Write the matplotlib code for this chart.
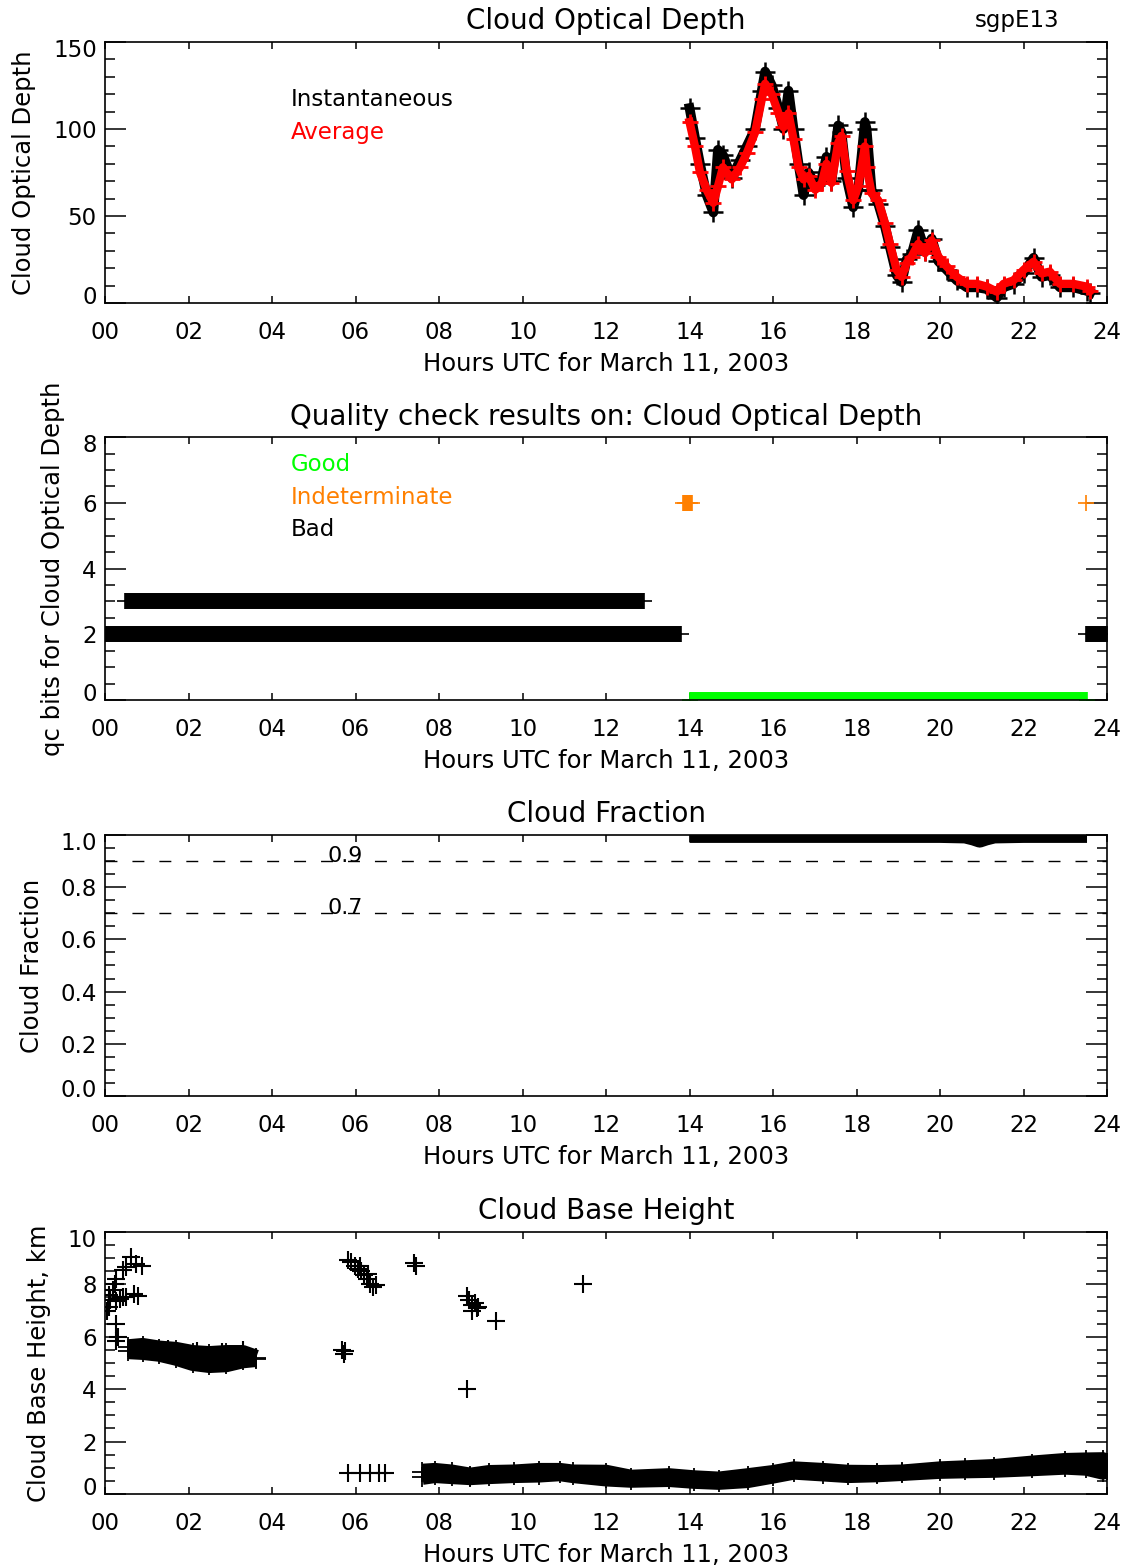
import matplotlib
matplotlib.use('Agg')
import matplotlib.pyplot as plt
from matplotlib.ticker import MultipleLocator
from matplotlib.transforms import offset_copy

# Cloud optical depth, March 11 2003 (hours UTC)
cod_hours = [14.0, 14.13, 14.25, 14.41, 14.57, 14.68, 14.80, 15.01, 15.21, 15.37,
             15.57, 15.73, 15.81, 15.97, 16.13, 16.25, 16.37, 16.49, 16.61, 16.73,
             16.85, 17.01, 17.17, 17.28, 17.40, 17.56, 17.64, 17.76, 17.92, 18.04,
             18.20, 18.24, 18.36, 18.52, 18.68, 18.80, 18.96, 19.08, 19.20, 19.32,
             19.48, 19.64, 19.80, 19.96, 20.16, 20.40, 20.64, 20.88, 21.12, 21.36,
             21.52, 21.76, 22.00, 22.24, 22.43, 22.63, 22.87, 23.19, 23.51, 23.60]
cod_avg = [104, 90, 75, 65, 57.5, 67, 78, 71, 78, 86,
           98, 117, 126, 120, 109, 101, 109, 94, 78, 71,
           73, 65, 69, 80, 69, 92, 96, 76, 59, 67,
           90, 78, 63, 59, 46, 34, 19, 15, 23, 26.6,
           34, 28.6, 36, 26.6, 21, 15, 11, 11, 9.4, 6.5,
           11, 13, 19, 23.7, 17, 18, 11, 11, 9.4, 7]
cod_inst = [112, 95, 80, 62, 52, 88, 85, 72, 82, 90,
            100, 122, 133, 125, 112, 100, 122, 100, 80, 62,
            75, 68, 72, 84, 70, 102, 98, 72, 55, 65,
            104, 100, 65, 57, 44, 32, 16, 12, 25, 28,
            42, 30, 37, 24, 19, 13, 9, 9, 8, 3,
            9, 11, 17, 26, 15, 16, 9, 9, 7, 6]

# QC bits
qc_bad_bit = [3, 2, 2]
qc_bad_start = [0.48, 0.0, 23.5]
qc_bad_end = [12.92, 13.8, 24.0]
qc_good_start = [14.02]
qc_good_end = [23.51]
qc_indet_hours = [13.85, 13.9, 13.95, 14.0, 14.05, 23.5]
qc_indet_bit = 6

# Cloud fraction
cf_hours = [14.0, 15.0, 16.0, 17.0, 18.0, 19.0, 20.0, 20.6, 20.8, 20.95, 21.1, 21.3, 22.0, 23.0, 23.52]
cf_values = [1.0, 1.0, 1.0, 1.0, 1.0, 1.0, 1.0, 0.998, 0.99, 0.982, 0.99, 0.998, 1.0, 1.0, 1.0]
cf_thresholds = [0.9, 0.7]

# Cloud base height: low layer envelope
cbh_low_hours = [7.6, 7.9, 8.3, 8.75, 9.2, 9.8, 10.4, 10.9, 11.2, 12.0, 12.6, 13.5, 14.1,
                 14.7, 15.4, 16.0, 16.5, 17.2, 17.8, 18.5, 19.1, 20.0, 20.6, 21.3, 22.2,
                 23.0, 23.5, 23.9, 24.0]
cbh_low_top = [0.85, 0.88, 0.82, 0.70, 0.80, 0.82, 0.88, 0.88, 0.82, 0.81, 0.62, 0.68, 0.60,
               0.55, 0.68, 0.80, 0.94, 0.88, 0.81, 0.80, 0.82, 0.94, 0.98, 1.03, 1.16,
               1.26, 1.28, 1.29, 1.20]
cbh_low_bottom = [0.65, 0.72, 0.68, 0.64, 0.68, 0.72, 0.74, 0.79, 0.72, 0.59, 0.54, 0.57, 0.50,
                  0.46, 0.53, 0.70, 0.85, 0.78, 0.72, 0.75, 0.80, 0.88, 0.90, 0.92, 0.98,
                  1.04, 1.00, 0.85, 0.90]

# Cloud base height: mid layer envelope (00-04 UTC)
cbh_mid_hours = [0.55, 0.9, 1.3, 1.7, 2.1, 2.5, 2.9, 3.3, 3.62]
cbh_mid_top = [5.6, 5.65, 5.55, 5.5, 5.38, 5.34, 5.38, 5.38, 5.2]
cbh_mid_bottom = [5.45, 5.42, 5.35, 5.2, 5.0, 4.92, 4.95, 5.1, 5.15]

# Cloud base height: scattered detections
cbh_hours = [0.05, 0.09, 0.09, 0.13, 0.18, 0.23, 0.27, 0.27, 0.35, 0.42, 0.42, 0.51, 0.51,
             0.61, 0.70, 0.75, 0.80, 0.89, 0.27, 0.27, 0.30,
             1.5, 2.2, 2.8, 3.3,
             5.68, 5.72, 5.75,
             5.82, 5.9, 5.98, 6.05, 6.1, 6.12, 6.2, 6.28, 6.3, 6.35, 6.42, 6.48,
             7.4, 7.45,
             8.68, 8.72, 8.78, 8.8, 8.85, 8.9, 8.94,
             9.37, 8.68, 11.45,
             5.82, 6.10, 6.34, 6.57, 6.71]
cbh_values = [7.0, 7.12, 7.6, 7.4, 7.8, 8.02, 8.21, 7.38, 7.45, 8.54, 7.5, 8.67, 7.5,
              9.05, 7.63, 8.79, 7.57, 8.7, 6.47, 5.83, 6.0,
              5.55, 5.45, 5.4, 5.5,
              5.5, 5.35, 5.45,
              8.92, 8.85, 8.7, 8.6, 8.7, 8.5, 8.35, 8.2, 8.4, 8.0, 7.9, 7.96,
              8.8, 8.7,
              7.55, 7.4, 7.2, 7.0, 7.3, 7.1, 7.12,
              6.6, 4.02, 8.02,
              0.8, 0.8, 0.8, 0.8, 0.8]

hour_ticks = list(range(0, 25, 2))
xlabel = 'Hours UTC for March 11, 2003'

plt.rcParams['font.family'] = 'DejaVu Sans'
plt.rcParams['axes.linewidth'] = 1.2

MS = 11.5   # '+' marker size, points


def style_axes(ax, ymin, ymax, major, minor):
    ax.set_xlim(0, 24)
    ax.set_ylim(ymin, ymax)
    ax.set_xticks(hour_ticks)
    ax.set_xticklabels([f'{h:02d}' for h in hour_ticks])
    ax.yaxis.set_major_locator(MultipleLocator(major))
    ax.yaxis.set_minor_locator(MultipleLocator(minor))
    ax.tick_params(axis='both', which='both', direction='in', top=True, right=True,
                   width=1.1, labelsize=16.5)
    ax.tick_params(axis='x', which='major', length=5, pad=13)
    ax.tick_params(axis='y', which='major', length=15, pad=6)
    ax.tick_params(axis='y', which='minor', length=7)
    ax.set_xlabel(xlabel, fontsize=17.5, labelpad=6)


def envelope(ax, hours, bottom, top):
    ax.fill_between(hours, bottom, top, color='black', lw=0)
    for edge in (top, bottom):
        ax.plot(hours, edge, color='black', lw=11.5, solid_capstyle='butt',
                marker='+', ms=MS + 3, mew=1.3)


fig = plt.figure(figsize=(11.27, 15.65), dpi=100)
left, width = 0.0932, 0.8891

# ---- Cloud optical depth
ax1 = fig.add_axes([left, 0.8064, width, 0.1668])
ax1.plot(cod_hours, cod_inst, color='black', lw=7, marker='+', ms=15, mew=1.8)
ax1.plot(cod_hours, cod_avg, color='red', lw=6, marker='+', ms=11, mew=2)
style_axes(ax1, 0, 150, 50, 10)
ax1.set_ylabel('Cloud Optical Depth', fontsize=17.5, labelpad=12)
ax1.set_title('Cloud Optical Depth', fontsize=20, pad=9)
ax1.text(0.185, 0.78, 'Instantaneous', transform=ax1.transAxes, fontsize=16.5,
         color='black', va='center')
ax1.text(0.185, 0.655, 'Average', transform=ax1.transAxes, fontsize=16.5,
         color='red', va='center')
fig.text(1017 / 1127, 1 - 20 / 1565, 'sgpE13', fontsize=16.5, ha='center', va='center')

# ---- QC bits
ax2 = fig.add_axes([left, 0.5527, width, 0.168])
for bit, t0, t1 in zip(qc_bad_bit, qc_bad_start, qc_bad_end):
    ax2.plot([t0, t1], [bit, bit], color='black', lw=11.5, solid_capstyle='butt')
    ax2.plot([t0, t1], [bit, bit], color='black', ls='none', marker='+', ms=MS, mew=1.2)
for t0, t1 in zip(qc_good_start, qc_good_end):
    ax2.plot([t0, t1], [0, 0], color='#00ff00', lw=11.5, solid_capstyle='butt')
    ax2.plot([t0, t1], [0, 0], color='#00ff00', ls='none', marker='+', ms=MS, mew=1.2)
ax2.plot(qc_indet_hours, [qc_indet_bit] * len(qc_indet_hours), color='#ff8000',
         ls='none', marker='+', ms=MS, mew=1.2)
ax2.plot(qc_indet_hours[:-1], [qc_indet_bit] * (len(qc_indet_hours) - 1), color='#ff8000',
         lw=11.5, solid_capstyle='butt')
style_axes(ax2, 0, 8, 2, 0.5)
ax2.set_ylabel('qc bits for Cloud Optical Depth', fontsize=17.5, labelpad=12)
ax2.set_title('Quality check results on: Cloud Optical Depth', fontsize=20, pad=9)
ax2.text(0.185, 0.894, 'Good', transform=ax2.transAxes, fontsize=16.5,
         color='#00ff00', va='center')
ax2.text(0.185, 0.772, 'Indeterminate', transform=ax2.transAxes, fontsize=16.5,
         color='#ff8000', va='center')
ax2.text(0.185, 0.650, 'Bad', transform=ax2.transAxes, fontsize=16.5,
         color='black', va='center')

# ---- Cloud fraction
ax3 = fig.add_axes([left, 0.2997, width, 0.1668])
ax3.plot(cf_hours, cf_values, color='black', lw=11.5, solid_capstyle='butt')
for thr in cf_thresholds:
    ax3.axhline(thr, color='black', lw=1.0, dashes=(8.6, 10.8))
    ax3.text(5.75, thr + 0.02, f'{thr:.1f}', fontsize=16, ha='center', va='center')
style_axes(ax3, 0, 1.0, 0.2, 0.05)
ax3.yaxis.set_major_formatter(plt.FormatStrFormatter('%.1f'))
ax3.set_ylabel('Cloud Fraction', fontsize=17.5, labelpad=12)
ax3.set_title('Cloud Fraction', fontsize=20, pad=9)

# ---- Cloud base height
ax4 = fig.add_axes([left, 0.0454, width, 0.1674])
envelope(ax4, cbh_low_hours, cbh_low_bottom, cbh_low_top)
envelope(ax4, cbh_mid_hours, cbh_mid_bottom, cbh_mid_top)
ax4.plot(cbh_hours, cbh_values, color='black', ls='none', marker='+', ms=MS + 2, mew=1.5)
style_axes(ax4, 0, 10, 2, 0.5)
ax4.set_ylabel('Cloud Base Height, km', fontsize=17.5, labelpad=12)
ax4.set_title('Cloud Base Height', fontsize=20, pad=9)

# end y labels sit inside the frame, as in the original plot
fig.canvas.draw()
for ax in (ax1, ax2, ax3, ax4):
    ymin, ymax = ax.get_ylim()
    for tick in ax.yaxis.get_major_ticks():
        loc = tick.get_loc()
        if abs(loc - ymin) < 1e-9:
            dy = 5.5
        elif abs(loc - ymax) < 1e-9:
            dy = -4.5
        else:
            continue
        lab = tick.label1
        lab.set_transform(offset_copy(lab.get_transform(), fig=fig, y=dy, units='points'))

fig.savefig('out.png', dpi=100)
